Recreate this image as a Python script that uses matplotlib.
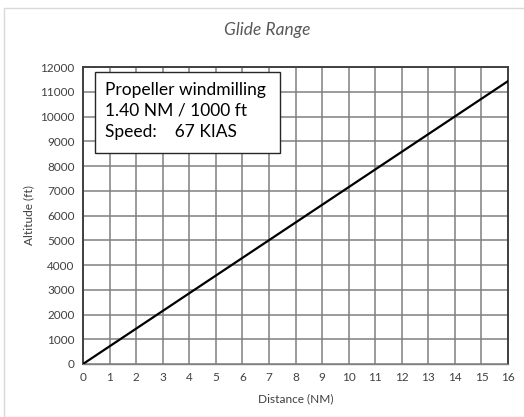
import matplotlib.pyplot as plt
from matplotlib.patches import Rectangle

# glide data
distance_nm = [0, 16]
altitude_ft = [0, 11430]

x_ticks = list(range(0, 17))
y_ticks = list(range(0, 12001, 1000))

title = "Glide Range"
box_lines = ["Propeller windmilling", "1.40 NM / 1000 ft", "Speed:    67 KIAS"]

plt.rcParams['font.family'] = ['Lato', 'DejaVu Sans']

fig = plt.figure(figsize=(5.24, 4.17), dpi=100)
W, H = 524, 417
ax = fig.add_axes([83 / W, 1 - 364 / H, (508 - 83) / W, (364 - 67) / H])

# outer chart border
fig.patches.append(Rectangle((4 / W, 0), 1.2, 1 - 8 / H, transform=fig.transFigure,
                             fill=False, edgecolor='#d9d9d9', linewidth=1))

ax.plot(distance_nm, altitude_ft, color='black', linewidth=1.6, zorder=3)

ax.set_xlim(0, 16)
ax.set_ylim(0, 12000)
ax.set_xticks(x_ticks)
ax.set_yticks(y_ticks)
ax.grid(True, color='#808080', linewidth=1.1)
ax.tick_params(length=0, labelsize=8.5, colors='#404040', pad=6)
for side in ax.spines:
    ax.spines[side].set_color('#404040')
    ax.spines[side].set_linewidth(1.4)
ax.spines['bottom'].set_color('#808080')
ax.spines['bottom'].set_linewidth(1.0)

ax.set_xlabel("Distance (NM)", fontsize=8.6, color='#404040', labelpad=7)
ax.set_ylabel("Altitude (ft)", fontsize=8.6, color='#404040', labelpad=4)
fig.text(267 / W, 1 - 30 / H, title, fontsize=12.5, style='italic', color='#595959',
         ha='center', va='center')

# annotation box drawn as a rectangle in pixel-based figure coords
fig.patches.append(Rectangle((95 / W, 1 - 153 / H), (280 - 95) / W, (153 - 72) / H,
                             transform=fig.transFigure, facecolor='white',
                             edgecolor='#262626', linewidth=1.0, zorder=4))
fig.text(105 / W, 1 - 111 / H, "\n".join(box_lines), fontsize=12.5, color='black',
         va='center', ha='left', linespacing=1.38, zorder=5)

fig.savefig('out.png', dpi=100)
